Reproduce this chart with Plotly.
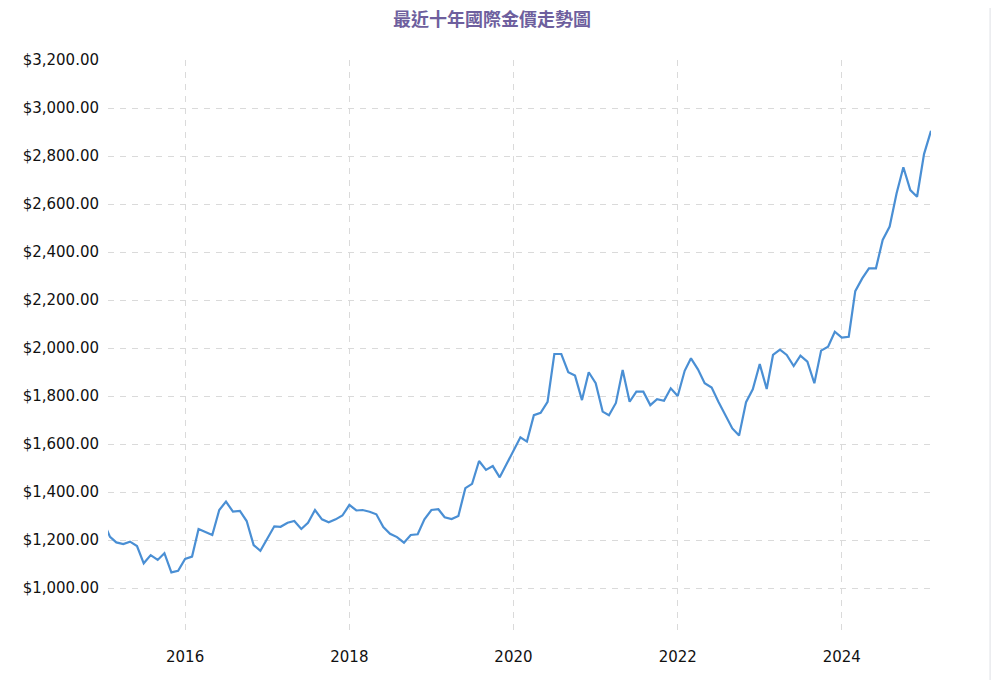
import pandas as pd
import plotly.graph_objects as go

# Cours de clôture mensuel de l'or (USD/once), janvier 2015 -> février 2025
start_month = "2015-01-01"
gold_close = [
    1280, 1213, 1190, 1183, 1193, 1175, 1103, 1137, 1117, 1145, 1065, 1072,  # 2015
    1121, 1131, 1246, 1234, 1221, 1325, 1360, 1318, 1321, 1279, 1179, 1155,  # 2016
    1207, 1257, 1255, 1272, 1279, 1246, 1272, 1325, 1286, 1274, 1286, 1302,  # 2017
    1346, 1323, 1325, 1318, 1307, 1254, 1226, 1212, 1189, 1221, 1224, 1286,  # 2018
    1325, 1328, 1295, 1287, 1300, 1416, 1434, 1529, 1492, 1508, 1461, 1515,  # 2019
    1570, 1628, 1610, 1720, 1730, 1776, 1975, 1975, 1899, 1885, 1783, 1899,  # 2020
    1853, 1735, 1720, 1771, 1908, 1776, 1818, 1818, 1762, 1787, 1780, 1832,  # 2021
    1800, 1905, 1957, 1911, 1853, 1835, 1776, 1721, 1665, 1635, 1774, 1828,  # 2022
    1933, 1829, 1971, 1993, 1971, 1925, 1968, 1943, 1853, 1989, 2005, 2068,  # 2023
    2043, 2047, 2237, 2290, 2332, 2332, 2450, 2506, 2645, 2753, 2658, 2630,  # 2024
    2808, 2905,                                                              # 2025
]
months = pd.date_range(start_month, periods=len(gold_close), freq="MS")

# Graduations de l'axe vertical (la dernière en bas n'a pas d'étiquette)
y_ticks = [800, 1000, 1200, 1400, 1600, 1800, 2000, 2200, 2400, 2600, 2800, 3000, 3200]
y_labels = ["" if v == 800 else "${:,.2f}".format(v) for v in y_ticks]

title = "最近十年國際金價走勢圖"

fig = go.Figure(go.Scatter(x=months, y=gold_close, mode="lines",
                           line=dict(color="#4a8fd4", width=2.2),
                           hovertemplate="%{x|%Y-%m}: $%{y:,.2f}<extra></extra>"))

# La page ajoute une marge de 8 px : le graphique est donc décalé d'autant
fig.update_layout(
    width=999, height=680,
    margin=dict(l=100, r=76, t=52, b=52),
    paper_bgcolor="white", plot_bgcolor="white",
    showlegend=False,
    font=dict(family="DejaVu Sans", size=15, color="#111111"),
    title=dict(text="<b>" + title + "</b>", x=0.4845, xanchor="center", y=0.9926, yanchor="top",
               font=dict(family="Noto Sans CJK TC", size=18, color="#6e5f9e")),
    # Bande grise de la barre de défilement à droite
    shapes=[dict(type="rect", xref="paper", yref="paper",
                 x0=(982 - 100) / 823, x1=1.2, y0=-0.2, y1=1.2,
                 fillcolor="#f6f7f9", line=dict(color="#e2e4e8", width=1), layer="below")],
)

fig.update_xaxes(range=["2015-01-23", "2025-02-01"], dtick="M24", tick0="2016-01-01",
                 tickformat="%Y", showgrid=True, gridcolor="#dadada", griddash="6px,6px",
                 gridwidth=1, showline=False, zeroline=False, ticks="", ticklabelstandoff=10)
fig.update_yaxes(range=[800, 3200], tickvals=y_ticks, ticktext=y_labels,
                 showgrid=True, gridcolor="#dadada", griddash="6px,6px", gridwidth=1,
                 showline=False, zeroline=False, ticks="", ticklabelstandoff=8)

fig.write_html("out.html")
